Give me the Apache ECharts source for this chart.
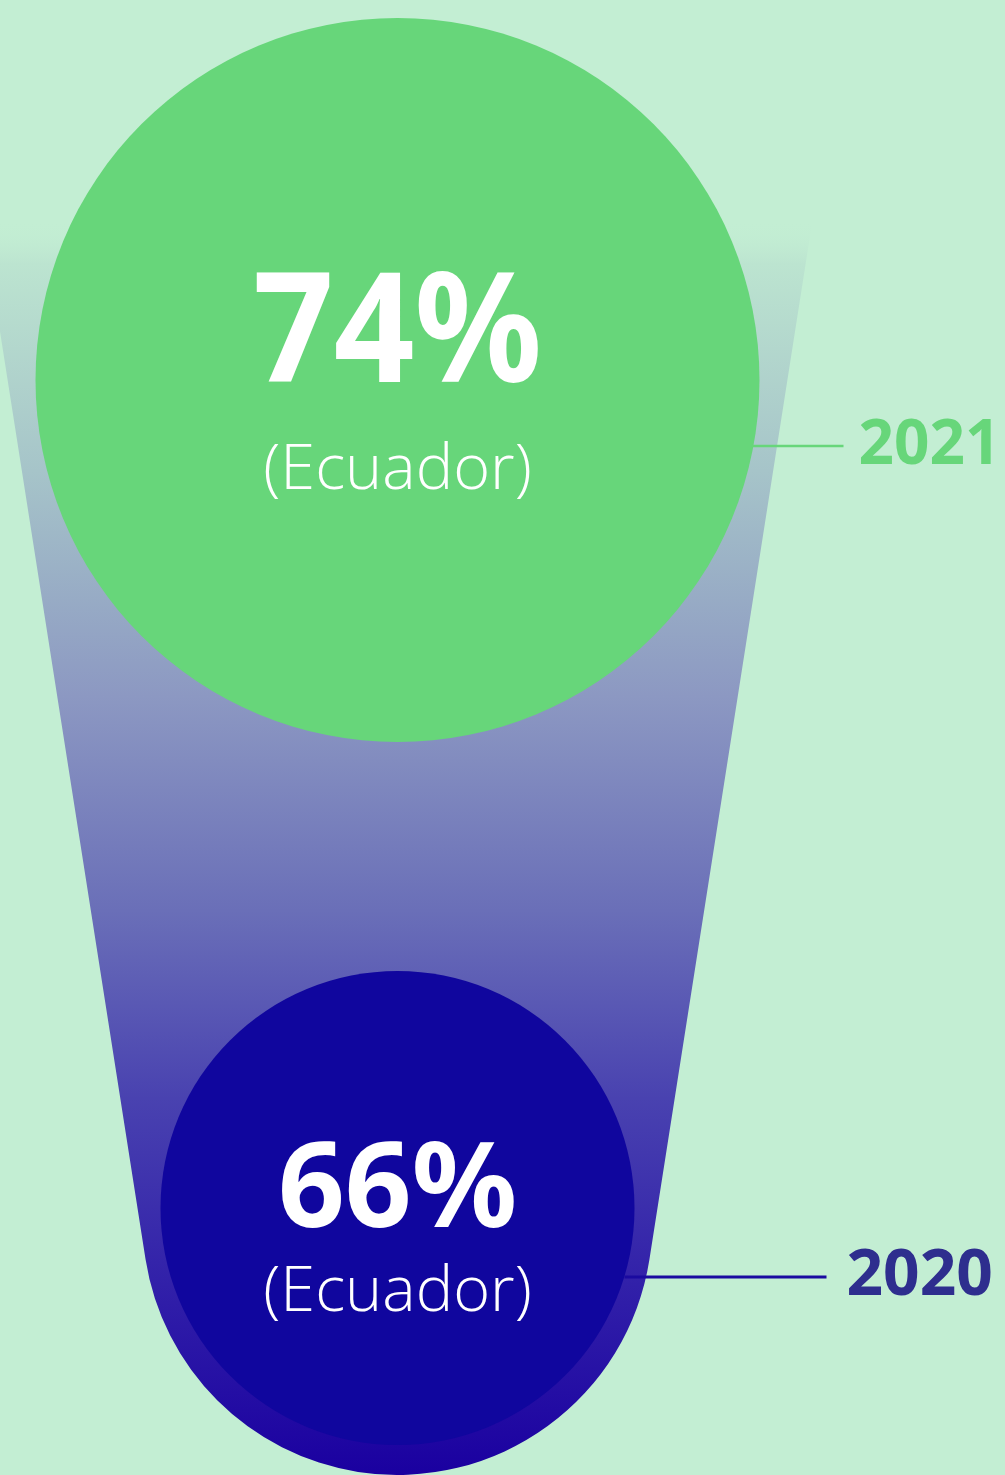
<!DOCTYPE html>
<html>
<head>
<meta charset="utf-8">
<script src="https://cdn.jsdelivr.net/npm/echarts@6/dist/echarts.min.js"></script>
<style>
html,body{margin:0;padding:0;background:#C3EED3;}
#main{width:1005px;height:1475px;}
</style>
</head>
<body>
<div id="main"></div>
<script>
// ---- data ----
const countries = ['Ecuador'];
const years = ['2021', '2020'];
const shares = [74, 66];

// ---- styles (not data) ----
const circleRadius = [362, 237];
const circleColor = ['#67D67A', '#10069E'];
const yearColor = ['#67D67A', '#2E2E8E'];
const lineColor = ['#67D67A', '#1A0AA0'];
const lineWidth = [2.5, 3];
const bigSize = [152, 118];
const bigScaleX = [0.93, 0.99];
const bigDy = [-41, -15];
const smallDy = [91, 85];
const yearSize = [62, 64];
const leader = [ // relative to circle centre: [x0, x1, dy]
  [354, 446, 66],
  [227, 429, 69]
];
const yearDx = [15, 20];

const chart = echarts.init(document.getElementById('main'), null, {renderer: 'canvas'});

const option = {
  backgroundColor: '#C3EED3',
  animation: false,
  grid: {left: 0, width: 795, top: 380, height: 828},
  xAxis: {type: 'category', data: countries, boundaryGap: true, show: false},
  yAxis: {type: 'category', data: years, boundaryGap: false, inverse: true, show: false},
  series: [
    {
      type: 'custom',
      name: 'funnel',
      z: 1,
      data: [[0, 0]],
      renderItem: function (params, api) {
        const top = api.coord([0, 0]);
        const bot = api.coord([0, 1]);
        const cx = top[0];
        const topY = top[1] - 160;
        const halfW = 415;
        const C = [cx, bot[1] + 12];
        const r = 255;
        function tangent(P, side) {
          const dx = P[0] - C[0], dy = P[1] - C[1];
          const d = Math.sqrt(dx * dx + dy * dy);
          const phi = Math.atan2(dy, dx);
          const a = Math.acos(r / d);
          const t = side < 0 ? phi - a : phi + a;
          return [C[0] + r * Math.cos(t), C[1] + r * Math.sin(t)];
        }
        const PL = [cx - halfW, topY], PR = [cx + halfW, topY];
        const TL = tangent(PL, -1);
        const TR = tangent(PR, 1);
        const path = 'M' + PL[0] + ' ' + PL[1] + ' L' + PR[0] + ' ' + PR[1] +
          ' L' + TR[0] + ' ' + TR[1] +
          ' A' + r + ' ' + r + ' 0 0 1 ' + TL[0] + ' ' + TL[1] + ' Z';
        return {
          type: 'path',
          shape: {pathData: path},
          style: {
            fill: new echarts.graphic.LinearGradient(0, 0, 0, 1, [
              {offset: 0, color: 'rgba(195,238,211,0)'},
              {offset: 0.035, color: 'rgba(188,228,208,1)'},
              {offset: 0.2, color: '#A6C4C9'},
              {offset: 0.38, color: '#8C98C2'},
              {offset: 0.55, color: '#6A6FB8'},
              {offset: 0.7, color: '#4942B0'},
              {offset: 0.83, color: '#3424AA'},
              {offset: 1, color: '#1A00A0'}
            ])
          }
        };
      }
    },
    {
      type: 'custom',
      name: 'share',
      z: 2,
      data: years.map((y, i) => [countries[0], y, shares[i]]),
      renderItem: function (params, api) {
        const i = params.dataIndex;
        const p = api.coord([api.value(0), api.value(1)]);
        const lead = leader[i];
        return {
          type: 'group',
          children: [
            {
              type: 'circle',
              shape: {cx: p[0], cy: p[1], r: circleRadius[i]},
              style: {fill: circleColor[i]}
            },
            {
              type: 'line',
              shape: {x1: p[0] + lead[0], y1: p[1] + lead[2], x2: p[0] + lead[1], y2: p[1] + lead[2]},
              style: {stroke: lineColor[i], lineWidth: lineWidth[i]}
            },
            {
              type: 'text',
              style: {
                text: years[i],
                x: p[0] + lead[1] + yearDx[i],
                y: p[1] + lead[2],
                fill: yearColor[i],
                fontSize: yearSize[i],
                fontWeight: 'bold',
                fontFamily: 'Noto Sans',
                align: 'left',
                verticalAlign: 'middle'
              }
            },
            {
              type: 'text',
              x: p[0],
              y: p[1] + bigDy[i],
              scaleX: bigScaleX[i],
              style: {
                text: api.value(2) + '%',
                x: 0,
                y: 0,
                fill: '#ffffff',
                fontSize: bigSize[i],
                fontWeight: 'bold',
                fontFamily: 'Noto Sans',
                align: 'center',
                verticalAlign: 'middle'
              }
            },
            {
              type: 'text',
              style: {
                text: '(' + countries[0] + ')',
                x: p[0],
                y: p[1] + smallDy[i],
                fill: '#ffffff',
                fontSize: 63,
                fontWeight: 300,
                fontFamily: 'Open Sans',
                align: 'center',
                verticalAlign: 'middle'
              }
            }
          ]
        };
      }
    }
  ]
};
chart.setOption(option);
</script>
</body>
</html>
